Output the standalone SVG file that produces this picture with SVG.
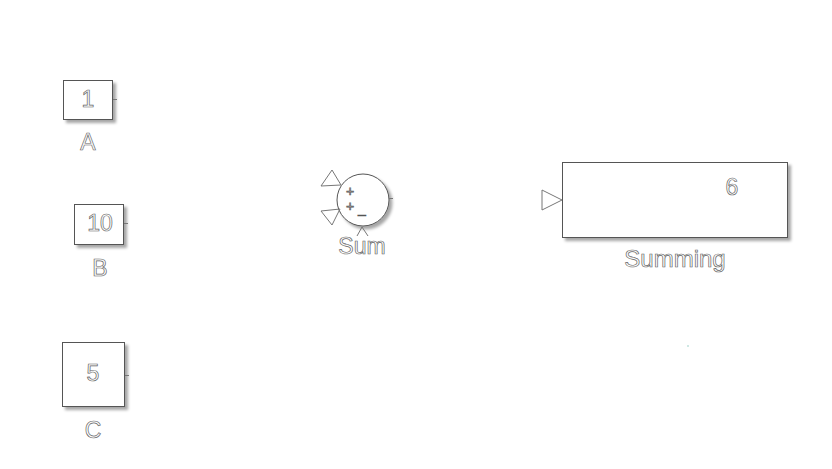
<svg xmlns="http://www.w3.org/2000/svg" width="832" height="469" viewBox="0 0 832 469">
  <defs>
    <filter id="shadow" x="-20%" y="-20%" width="150%" height="150%">
      <feDropShadow dx="3" dy="3" stdDeviation="1.5" flood-color="#000" flood-opacity="0.35"/>
    </filter>
    <style>
      .blk { fill: #fff; stroke: #555; stroke-width: 1; filter: url(#shadow); }
      .port { fill: none; stroke: #777; stroke-width: 1; }
      .txt { font-family: "Liberation Sans", Arial, sans-serif; fill: #fff; stroke: #666; stroke-width: 0.7; text-anchor: middle; }
      .lbl { font-size: 23px; }
      .big { font-size: 24px; }
      .sign { font-family: "Liberation Sans", Arial, sans-serif; font-size: 14px; fill: #fff; stroke: #555; stroke-width: 0.7; text-anchor: middle; }
    </style>
  </defs>
  <rect width="832" height="469" fill="#fff"/>

  <!-- Constant A -->
  <g id="A">
    <rect class="blk" x="63.5" y="80.5" width="49" height="39"/>
    <line class="port" x1="113" y1="99.5" x2="117" y2="99.5"/>
    <text class="txt lbl" x="88" y="107">1</text>
    <text class="txt lbl" x="88" y="150">A</text>
  </g>

  <!-- Constant B -->
  <g id="B">
    <rect class="blk" x="74.5" y="204.5" width="49" height="40"/>
    <line class="port" x1="124" y1="223.5" x2="128" y2="223.5"/>
    <text class="txt lbl" x="100" y="231">10</text>
    <text class="txt lbl" x="100" y="276">B</text>
  </g>

  <!-- Constant C -->
  <g id="C">
    <rect class="blk" x="62.5" y="342.5" width="62" height="64"/>
    <line class="port" x1="125" y1="375.5" x2="129" y2="375.5"/>
    <text class="txt lbl" x="93" y="381">5</text>
    <text class="txt lbl" x="93" y="438">C</text>
  </g>

  <!-- Sum block -->
  <g id="Sum">
    <circle cx="363" cy="200" r="26" fill="#fff" stroke="#555" stroke-width="1" filter="url(#shadow)"/>
    <polygon class="port" points="321,186 332,170 341,185"/>
    <polygon class="port" points="321,211 340,209 332,225"/>
    <polyline class="port" points="357,236 362,227 368,236"/>
    <line class="port" x1="389" y1="198.5" x2="393" y2="198.5"/>
    <text class="sign" x="350" y="196">+</text>
    <text class="sign" x="350" y="211">+</text>
    <text class="sign" x="362" y="213">_</text>
    <text class="txt lbl" x="362" y="254">Sum</text>
  </g>

  <!-- Display block -->
  <g id="Summing">
    <rect class="blk" x="562.5" y="162.5" width="225" height="75"/>
    <polygon class="port" points="542,190 562,200 542,210"/>
    <text class="txt lbl" x="732" y="195">6</text>
    <text class="txt big" x="675" y="267">Summing</text>
  </g>

  <g id="connectors"></g>

  <rect x="687" y="345" width="2" height="2" fill="#cfe8e4"/>
</svg>
